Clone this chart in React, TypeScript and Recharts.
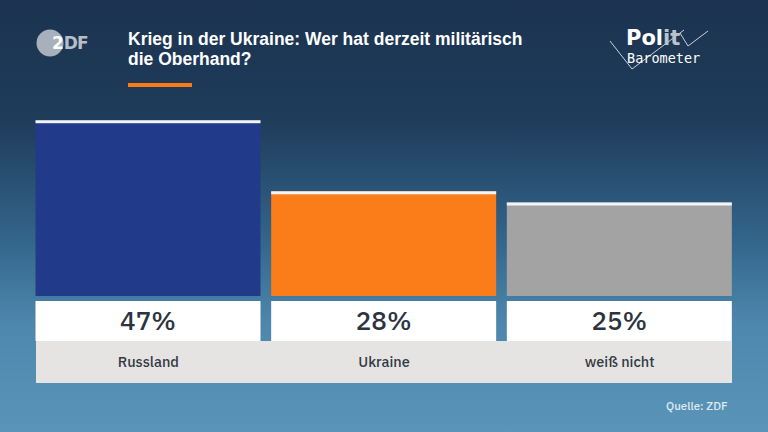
import { BarChart, Bar, XAxis, YAxis, Cell, LabelList } from 'recharts';

const categories = ['Russland', 'Ukraine', 'weiß nicht'];
const shares = [47, 28, 25];
const barColors = ['#213a8a', '#fb7d19', '#a3a3a3'];

const data = categories.map((name, i) => ({ name, value: shares[i] }));

const font = '"IBM Plex Sans", Inter, "Open Sans", sans-serif';

function CappedBar(props: any) {
  const { x, y, width, height, fill } = props;
  return (
    <g>
      <rect x={x} y={y} width={width} height={height} fill={fill} />
      <rect x={x} y={y} width={width} height={3} fill="#f2f4f7" />
    </g>
  );
}

function ValueBox(props: any) {
  const { x, y, width, height, value } = props;
  const top = y + height + 5;
  return (
    <g>
      <rect x={x} y={top} width={width} height={40} fill="#ffffff" />
      <text
        x={x + width / 2}
        y={top + 29}
        textAnchor="middle"
        fill="#2c3440"
        fontSize={26}
        fontWeight={500}
        fontFamily={font}
      >
        {value}%
      </text>
    </g>
  );
}

function CategoryTick(props: any) {
  const { x, payload } = props;
  return (
    <text x={x} y={367} textAnchor="middle" fill="#333a44" fontSize={14.5} fontWeight={500} fontFamily={font}>
      {payload.value}
    </text>
  );
}

export default function App() {
  return (
    <div
      style={{
        position: 'fixed',
        left: 0,
        top: 0,
        width: 768,
        height: 432,
        overflow: 'hidden',
        background: 'linear-gradient(to bottom, #1b3350 0%, #1f3c5b 28%, #33648a 55%, #4d87ad 75%, #5a95b9 100%)',
        fontFamily: font,
      }}
    >
      {/* ZDF logo */}
      <svg width={110} height={80} style={{ position: 'absolute', left: 0, top: 0 }}>
        <circle cx={50} cy={43} r={13.5} fill="#a8b0bb" />
        <text x={52} y={49} fill="#ffffff" fontSize={17} fontWeight={700} fontFamily="'DejaVu Sans', sans-serif">
          2<tspan fill="#b7bec8" letterSpacing={-1}>DF</tspan>
        </text>
      </svg>

      {/* title */}
      <div
        style={{
          position: 'absolute',
          left: 128,
          top: 29,
          color: '#ffffff',
          fontFamily: '"Liberation Sans", Arial, sans-serif',
          fontWeight: 700,
          fontSize: 17.5,
          lineHeight: '20px',
        }}
      >
        Krieg in der Ukraine: Wer hat derzeit militärisch
        <br />
        die Oberhand?
      </div>
      <div style={{ position: 'absolute', left: 128, top: 83, width: 64, height: 4, background: '#f97a17' }} />

      {/* Politbarometer logo */}
      <svg width={140} height={80} style={{ position: 'absolute', left: 600, top: 0 }}>
        <polyline points="10,41 32,69 84,30" fill="none" stroke="#c9d2dc" strokeWidth={1} />
        <polyline points="80,33 88,46 108,31" fill="none" stroke="#c9d2dc" strokeWidth={1} />
        <text fill="#ffffff">
          <tspan x={26} y={45} fontSize={21} fontWeight={700} fontFamily="'DejaVu Sans', sans-serif">
            Pol<tspan fill="#b9c2cd">it</tspan>
          </tspan>
          <tspan x={27} y={63} fontSize={13.5} fontFamily="'DejaVu Sans Mono', monospace">
            Barometer
          </tspan>
        </text>
      </svg>

      {/* category strip */}
      <div style={{ position: 'absolute', left: 36, top: 341, width: 696, height: 42, background: '#e6e4e3' }} />

      <div style={{ position: 'absolute', left: 0, top: 0 }}>
        <BarChart width={768} height={432} data={data} margin={{ top: 109, right: 30.5, bottom: 106, left: 30.5 }}>
          <YAxis hide domain={[0, 50]} />
          <XAxis dataKey="name" height={30} axisLine={false} tickLine={false} tick={<CategoryTick />} interval={0} />
          <Bar dataKey="value" barSize={225} isAnimationActive={false} shape={<CappedBar />}>
            {data.map((d, i) => (
              <Cell key={d.name} fill={barColors[i]} />
            ))}
            <LabelList dataKey="value" content={<ValueBox />} />
          </Bar>
        </BarChart>
      </div>

      <div
        style={{
          position: 'absolute',
          left: 666,
          top: 398,
          color: '#dde9f2',
          fontSize: 11.5,
          fontWeight: 500,
        }}
      >
        Quelle: ZDF
      </div>
    </div>
  );
}
